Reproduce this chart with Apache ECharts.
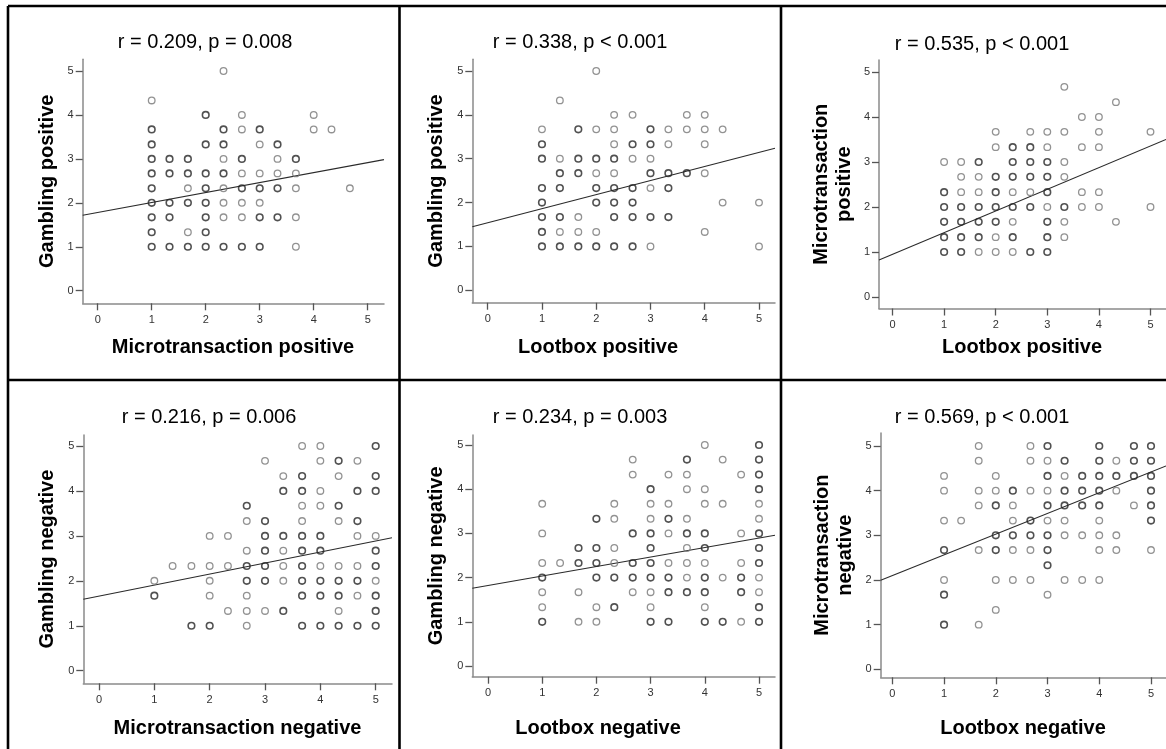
<!DOCTYPE html>
<html><head><meta charset="utf-8">
<script src="https://cdn.jsdelivr.net/npm/echarts@6/dist/echarts.min.js"></script>
<style>html,body{margin:0;padding:0;background:#fff}#c{width:1166px;height:749px}</style>
</head><body><div id="c"></div>
<script>
// ---------- data ----------
const tickValues = [0, 1, 2, 3, 4, 5];
const titles = ['r = 0.209, p = 0.008', 'r = 0.338, p < 0.001', 'r = 0.535, p < 0.001',
                'r = 0.216, p = 0.006', 'r = 0.234, p = 0.003', 'r = 0.569, p < 0.001'];
const xNames = ['Microtransaction positive', 'Lootbox positive', 'Lootbox positive',
                'Microtransaction negative', 'Lootbox negative', 'Lootbox negative'];
const yNames = ['Gambling positive', 'Gambling positive', 'Microtransaction\npositive',
                'Gambling negative', 'Gambling negative', 'Microtransaction\nnegative'];
const fitIntercepts = [1.78, 1.54, 0.95, 1.66, 1.82, 2.10];
const fitSlopes = [0.227, 0.321, 0.481, 0.245, 0.215, 0.464];
// [x, y, overlap level (1 = single, 2 = several)]
const gambPosVsMtxPos = [
 [2.33,5,1],[1,4.33,1],[2,4,2],[2.67,4,1],[4,4,1],
 [1,3.67,2],[2.33,3.67,2],[2.67,3.67,1],[3,3.67,2],[4,3.67,1],[4.33,3.67,1],
 [1,3.33,2],[2,3.33,2],[2.33,3.33,2],[3,3.33,1],[3.33,3.33,2],
 [1,3,2],[1.33,3,2],[1.67,3,2],[2.33,3,1],[2.67,3,2],[3.33,3,1],[3.67,3,2],
 [1,2.67,2],[1.33,2.67,2],[1.67,2.67,2],[2,2.67,2],[2.33,2.67,2],[2.67,2.67,1],[3,2.67,1],[3.33,2.67,1],[3.67,2.67,1],
 [1,2.33,2],[1.67,2.33,1],[2,2.33,2],[2.33,2.33,1],[2.67,2.33,2],[3,2.33,2],[3.33,2.33,2],[3.67,2.33,1],[4.67,2.33,1],
 [1,2,2],[1.33,2,2],[1.67,2,2],[2,2,2],[2.33,2,1],[2.67,2,1],[3,2,1],
 [1,1.67,2],[1.33,1.67,2],[2,1.67,2],[2.33,1.67,1],[2.67,1.67,1],[3,1.67,2],[3.33,1.67,2],[3.67,1.67,1],
 [1,1.33,2],[1.67,1.33,1],[2,1.33,2],
 [1,1,2],[1.33,1,2],[1.67,1,2],[2,1,2],[2.33,1,2],[2.67,1,2],[3,1,2],[3.67,1,1]
];
const gambPosVsLootPos = [
 [2,5,1],[1.33,4.33,1],[2.33,4,1],[2.67,4,1],[3.67,4,1],[4,4,1],
 [1,3.67,1],[1.67,3.67,2],[2,3.67,1],[2.33,3.67,1],[3,3.67,2],[3.33,3.67,1],[3.67,3.67,1],[4,3.67,1],[4.33,3.67,1],
 [1,3.33,2],[2.33,3.33,1],[2.67,3.33,2],[3,3.33,2],[3.33,3.33,1],[4,3.33,1],
 [1,3,2],[1.33,3,1],[1.67,3,2],[2,3,2],[2.33,3,2],[2.67,3,1],[3,3,1],
 [1.33,2.67,2],[1.67,2.67,2],[2,2.67,1],[2.33,2.67,1],[3,2.67,2],[3.33,2.67,2],[3.67,2.67,2],[4,2.67,1],
 [1,2.33,2],[1.33,2.33,2],[2,2.33,2],[2.33,2.33,2],[2.67,2.33,2],[3,2.33,1],[3.33,2.33,2],
 [1,2,2],[2,2,2],[2.33,2,2],[2.67,2,2],[4.33,2,1],[5,2,1],
 [1,1.67,2],[1.33,1.67,2],[1.67,1.67,1],[2.33,1.67,2],[2.67,1.67,2],[3,1.67,2],[3.33,1.67,2],
 [1,1.33,2],[1.33,1.33,1],[1.67,1.33,1],[2,1.33,1],[4,1.33,1],
 [1,1,2],[1.33,1,2],[1.67,1,2],[2,1,2],[2.33,1,2],[2.67,1,2],[3,1,1],[5,1,1]
];
const mtxPosVsLootPos = [
 [3.33,4.67,1],[4.33,4.33,1],[3.67,4,1],[4,4,1],
 [2,3.67,1],[2.67,3.67,1],[3,3.67,1],[3.33,3.67,1],[4,3.67,1],[5,3.67,1],
 [2,3.33,1],[2.33,3.33,2],[2.67,3.33,2],[3,3.33,1],[3.67,3.33,1],[4,3.33,1],
 [1,3,1],[1.33,3,1],[1.67,3,2],[2.33,3,2],[2.67,3,2],[3,3,2],[3.33,3,1],
 [1.33,2.67,1],[1.67,2.67,1],[2,2.67,2],[2.33,2.67,2],[2.67,2.67,2],[3,2.67,2],[3.33,2.67,1],
 [1,2.33,2],[1.33,2.33,1],[1.67,2.33,1],[2,2.33,2],[2.33,2.33,1],[2.67,2.33,1],[3,2.33,2],[3.67,2.33,1],[4,2.33,1],
 [1,2,2],[1.33,2,2],[1.67,2,2],[2,2,2],[2.33,2,2],[2.67,2,2],[3,2,1],[3.33,2,2],[3.67,2,1],[4,2,1],[5,2,1],
 [1,1.67,2],[1.33,1.67,2],[1.67,1.67,2],[2,1.67,2],[2.33,1.67,1],[3,1.67,2],[3.33,1.67,1],[4.33,1.67,1],
 [1,1.33,2],[1.33,1.33,2],[1.67,1.33,2],[2,1.33,1],[2.33,1.33,2],[3,1.33,2],[3.33,1.33,1],
 [1,1,2],[1.33,1,2],[1.67,1,1],[2,1,1],[2.33,1,1],[2.67,1,2],[3,1,2]
];
const gambNegVsMtxNeg = [
 [3.67,5,1],[4,5,1],[5,5,2],
 [3,4.67,1],[4,4.67,1],[4.33,4.67,2],[4.67,4.67,1],
 [3.33,4.33,1],[3.67,4.33,2],[4.33,4.33,1],[5,4.33,2],
 [3.33,4,2],[3.67,4,2],[4,4,1],[4.67,4,2],[5,4,2],
 [2.67,3.67,2],[3.67,3.67,1],[4,3.67,1],[4.33,3.67,2],
 [2.67,3.33,1],[3,3.33,2],[3.67,3.33,1],[4.33,3.33,1],[4.67,3.33,2],
 [2,3,1],[2.33,3,1],[3,3,2],[3.33,3,2],[3.67,3,2],[4,3,2],[4.67,3,1],[5,3,1],
 [2.67,2.67,1],[3,2.67,2],[3.33,2.67,1],[3.67,2.67,2],[4,2.67,2],[5,2.67,2],
 [1.33,2.33,1],[1.67,2.33,1],[2,2.33,1],[2.33,2.33,1],[2.67,2.33,2],[3,2.33,2],[3.33,2.33,1],[3.67,2.33,2],[4,2.33,1],[4.33,2.33,1],[4.67,2.33,1],[5,2.33,2],
 [1,2,1],[2,2,1],[2.67,2,2],[3,2,2],[3.33,2,1],[3.67,2,2],[4,2,2],[4.33,2,2],[4.67,2,2],[5,2,1],
 [1,1.67,2],[2,1.67,1],[2.67,1.67,1],[3.67,1.67,2],[4,1.67,2],[4.33,1.67,2],[4.67,1.67,1],[5,1.67,2],
 [2.33,1.33,1],[2.67,1.33,1],[3,1.33,1],[3.33,1.33,2],[4.33,1.33,1],[5,1.33,2],
 [1.67,1,2],[2,1,2],[2.67,1,1],[3.67,1,2],[4,1,2],[4.33,1,2],[4.67,1,2],[5,1,2]
];
const gambNegVsLootNeg = [
 [4,5,1],[5,5,2],
 [2.67,4.67,1],[3.67,4.67,2],[4.33,4.67,1],[5,4.67,2],
 [2.67,4.33,1],[3.33,4.33,1],[3.67,4.33,1],[4.67,4.33,1],[5,4.33,2],
 [3,4,2],[3.67,4,1],[4,4,1],[5,4,2],
 [1,3.67,1],[2.33,3.67,1],[3,3.67,1],[3.33,3.67,1],[4,3.67,1],[4.33,3.67,1],[5,3.67,1],
 [2,3.33,2],[2.33,3.33,1],[3,3.33,1],[3.33,3.33,2],[3.67,3.33,1],[5,3.33,1],
 [1,3,1],[2.67,3,2],[3,3,2],[3.33,3,1],[3.67,3,2],[4,3,2],[4.67,3,1],[5,3,2],
 [1.67,2.67,2],[2,2.67,2],[2.33,2.67,1],[3,2.67,2],[3.67,2.67,1],[4,2.67,2],[5,2.67,2],
 [1,2.33,1],[1.33,2.33,1],[1.67,2.33,2],[2,2.33,2],[2.33,2.33,1],[2.67,2.33,2],[3,2.33,2],[3.33,2.33,1],[3.67,2.33,1],[4,2.33,1],[4.67,2.33,1],[5,2.33,2],
 [1,2,2],[2,2,2],[2.33,2,2],[2.67,2,2],[3,2,2],[3.33,2,2],[3.67,2,1],[4,2,2],[4.33,2,1],[4.67,2,2],[5,2,1],
 [1,1.67,1],[1.67,1.67,1],[2.67,1.67,1],[3,1.67,1],[3.33,1.67,2],[3.67,1.67,2],[4,1.67,2],[4.67,1.67,2],[5,1.67,1],
 [1,1.33,1],[2,1.33,1],[2.33,1.33,2],[3,1.33,1],[4,1.33,1],[5,1.33,2],
 [1,1,2],[1.67,1,1],[2,1,1],[3,1,2],[3.33,1,2],[4,1,2],[4.33,1,2],[4.67,1,1],[5,1,2]
];
const mtxNegVsLootNeg = [
 [1.67,5,1],[2.67,5,1],[3,5,2],[4,5,2],[4.67,5,2],[5,5,2],
 [1.67,4.67,1],[2.67,4.67,1],[3,4.67,1],[3.33,4.67,2],[4,4.67,2],[4.33,4.67,1],[4.67,4.67,2],[5,4.67,2],
 [1,4.33,1],[2,4.33,1],[3,4.33,2],[3.33,4.33,1],[3.67,4.33,2],[4,4.33,2],[4.33,4.33,2],[4.67,4.33,2],[5,4.33,2],
 [1,4,1],[1.67,4,1],[2,4,1],[2.33,4,2],[2.67,4,1],[3,4,1],[3.33,4,2],[3.67,4,2],[4,4,2],[4.33,4,1],[5,4,2],
 [1.67,3.67,1],[2,3.67,2],[2.33,3.67,1],[3,3.67,2],[3.33,3.67,2],[3.67,3.67,2],[4,3.67,2],[4.67,3.67,1],[5,3.67,2],
 [1,3.33,1],[1.33,3.33,1],[2.33,3.33,1],[2.67,3.33,2],[3,3.33,1],[3.33,3.33,1],[4,3.33,1],[5,3.33,2],
 [2,3,2],[2.33,3,2],[2.67,3,2],[3,3,2],[3.33,3,1],[3.67,3,1],[4,3,1],[4.33,3,1],
 [1,2.67,2],[1.67,2.67,1],[2,2.67,2],[2.33,2.67,1],[2.67,2.67,1],[3,2.67,2],[4,2.67,1],[4.33,2.67,1],[5,2.67,1],
 [3,2.33,2],
 [1,2,1],[2,2,1],[2.33,2,1],[2.67,2,1],[3.33,2,1],[3.67,2,1],[4,2,1],
 [1,1.67,2],[3,1.67,1],
 [2,1.33,1],
 [1,1,2],[1.67,1,1]
];
const panelData = [gambPosVsMtxPos, gambPosVsLootPos, mtxPosVsLootPos,
                   gambNegVsMtxNeg, gambNegVsLootNeg, mtxNegVsLootNeg];

// ---------- layout (pixels) ----------
const layout = [
 {axX: 82.7, axR: 384, axTop: 59.3, axBot: 303.3, px0: 97.7, px5: 367.7, py0: 290.7, py5: 71, tX: 205, tY: 42, yX: 47, xX: 233, xY: 347},
 {axX: 472.3, axR: 775, axTop: 59.3, axBot: 302.7, px0: 487.7, px5: 759, py0: 290.3, py5: 71, tX: 580, tY: 42, yX: 436.5, xX: 598, xY: 347},
 {axX: 879, axR: 1166, axTop: 60, axBot: 308.5, px0: 892.5, px5: 1150.5, py0: 297, py5: 72, tX: 982, tY: 44, yX: 832.5, xX: 1022, xY: 347},
 {axX: 83.3, axR: 392, axTop: 435, axBot: 683.3, px0: 99, px5: 375.7, py0: 670.7, py5: 446, tX: 209, tY: 417, yX: 47, xX: 237.5, xY: 728},
 {axX: 472.3, axR: 775, axTop: 435, axBot: 676.7, px0: 488, px5: 759, py0: 666, py5: 445, tX: 580, tY: 417, yX: 436.5, xX: 598, xY: 728},
 {axX: 880.7, axR: 1166, axTop: 433, axBot: 677.3, px0: 892.3, px5: 1151, py0: 669.3, py5: 446, tX: 982, tY: 417, yX: 834, xX: 1023, xY: 728}
];

const FONT = '"Liberation Sans", Arial, sans-serif';
const grid = [], xAxis = [], yAxis = [], series = [], graphic = [];

layout.forEach((L, i) => {
  const ux = (L.px5 - L.px0) / 5, uy = (L.py0 - L.py5) / 5;
  const xmin = (L.axX - L.px0) / ux, xmax = (L.axR - L.px0) / ux;
  const ymin = -(L.axBot - L.py0) / uy, ymax = 5 + (L.py5 - L.axTop) / uy;
  grid.push({left: L.axX, top: L.axTop, width: L.axR - L.axX, height: L.axBot - L.axTop, containLabel: false});
  const common = {
    type: 'value', gridIndex: i, splitLine: {show: false},
    axisLine: {show: true, onZero: false, lineStyle: {color: '#8a8a8a', width: 1.5}},
    axisTick: {show: true, customValues: tickValues, length: 7, lineStyle: {color: '#555', width: 1.3}},
  };
  xAxis.push(Object.assign({}, common, {min: xmin, max: xmax,
    axisLabel: {customValues: tickValues, fontSize: 11, color: '#333', margin: 11, fontFamily: FONT}}));
  yAxis.push(Object.assign({}, common, {min: ymin, max: ymax,
    axisLabel: {customValues: tickValues, fontSize: 11, color: '#333', margin: 9, fontFamily: FONT}}));
  series.push({
    type: 'scatter', xAxisIndex: i, yAxisIndex: i, symbol: 'circle', symbolSize: 6.6,
    data: panelData[i].map(d => ({value: [d[0], d[1]],
      itemStyle: {color: 'rgba(0,0,0,0)', borderColor: d[2] > 1 ? '#262626' : '#777', borderWidth: d[2] > 1 ? 1.6 : 1.3}})),
    z: 3
  });
  const a = fitIntercepts[i], b = fitSlopes[i];
  series.push({
    type: 'line', xAxisIndex: i, yAxisIndex: i, symbol: 'none', silent: true,
    data: [[xmin, a + b * xmin], [xmax, a + b * xmax]],
    lineStyle: {color: '#2a2a2a', width: 1.1}, z: 2
  });
  graphic.push({type: 'text', x: L.tX, y: L.tY, style: {text: titles[i], font: '20px ' + FONT, fill: '#000', textAlign: 'center', textVerticalAlign: 'middle'}});
  graphic.push({type: 'text', x: L.xX, y: L.xY, style: {text: xNames[i], font: 'bold 20px ' + FONT, fill: '#000', textAlign: 'center', textVerticalAlign: 'middle'}});
  graphic.push({type: 'text', x: L.yX, y: (L.axTop + L.axBot) / 2, rotation: Math.PI / 2,
    style: {text: yNames[i], font: 'bold 20px ' + FONT, fill: '#000', textAlign: 'center', textVerticalAlign: 'middle', lineHeight: 23}});
});

// table borders
const B = {stroke: '#000', lineWidth: 2.6};
[[8, 6, 8, 749], [399.5, 6, 399.5, 749], [781, 6, 781, 749], [8, 6, 1166, 6], [8, 380, 1166, 380]].forEach(s => {
  graphic.push({type: 'line', shape: {x1: s[0], y1: s[1], x2: s[2], y2: s[3]}, style: B, z: 10});
});

const chart = echarts.init(document.getElementById('c'), null, {renderer: 'canvas'});
chart.setOption({animation: false, backgroundColor: '#fff', grid, xAxis, yAxis, series, graphic});
</script>
</body></html>
